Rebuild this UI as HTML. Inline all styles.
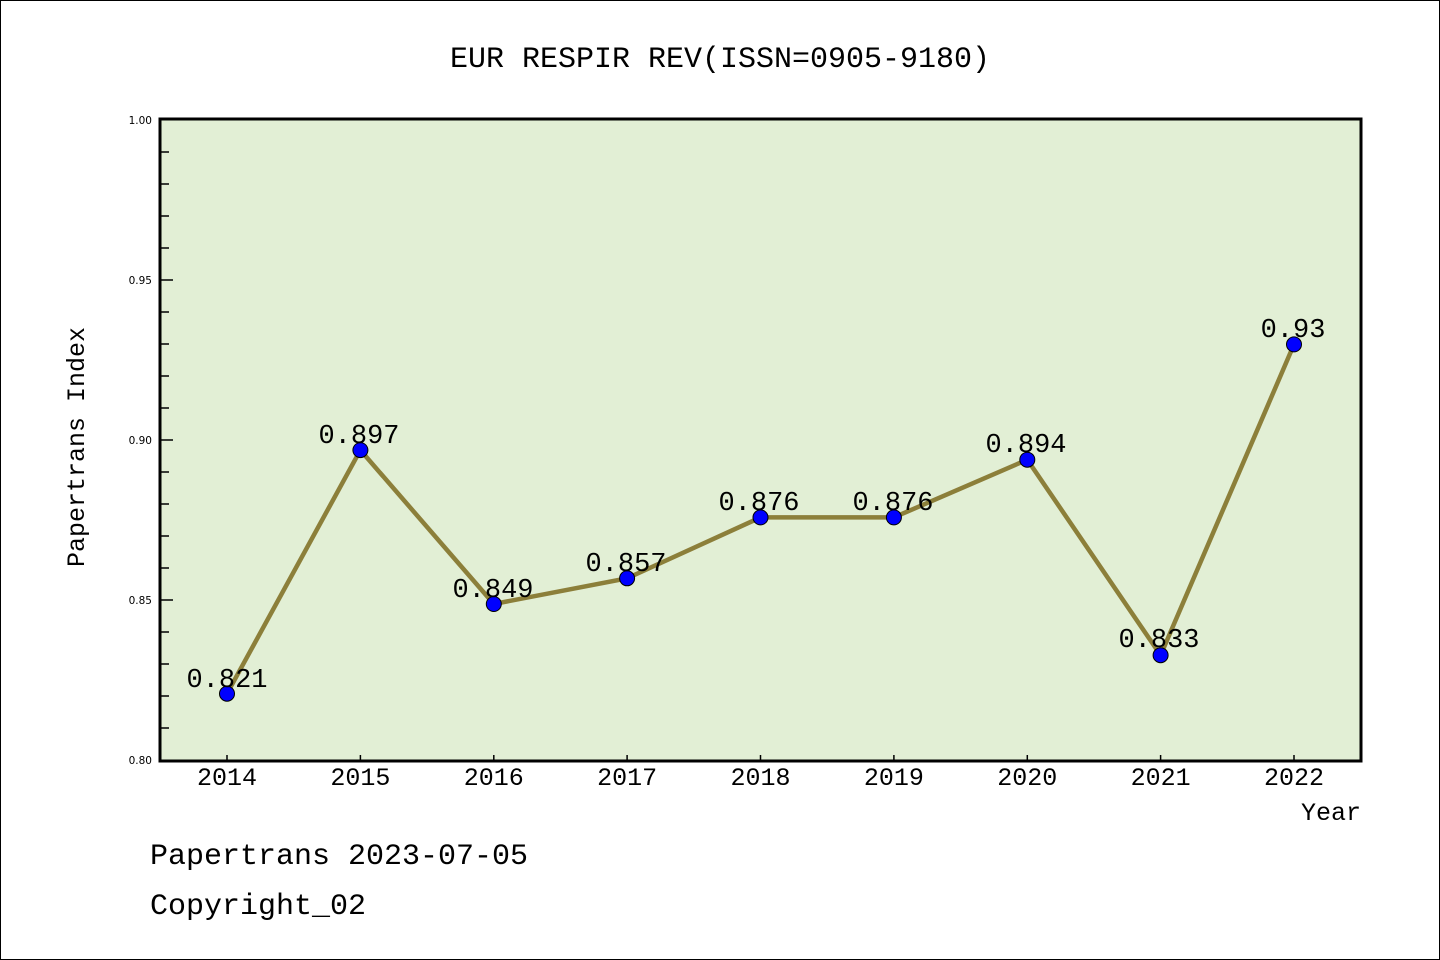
<!DOCTYPE html>
<html><head><meta charset="utf-8"><style>
body{margin:0;background:#fff;}
svg{display:block;}
</style></head><body>
<svg width="1440" height="960" xmlns="http://www.w3.org/2000/svg">
<rect x="0.5" y="0.5" width="1439" height="959" fill="#fff" stroke="#000"/>
<text x="720" y="67" font-family="Liberation Mono, monospace" font-size="30" text-anchor="middle">EUR RESPIR REV(ISSN=0905-9180)</text>
<rect x="160" y="119" width="1201" height="642" fill="#e2efd5"/>
<g stroke="#000" stroke-width="1.5">
<line x1="160" y1="152" x2="169" y2="152"/><line x1="160" y1="184" x2="169" y2="184"/><line x1="160" y1="216" x2="169" y2="216"/><line x1="160" y1="248" x2="169" y2="248"/>
<line x1="160" y1="280" x2="173" y2="280"/>
<line x1="160" y1="312" x2="169" y2="312"/><line x1="160" y1="344" x2="169" y2="344"/><line x1="160" y1="376" x2="169" y2="376"/><line x1="160" y1="408" x2="169" y2="408"/>
<line x1="160" y1="440" x2="173" y2="440"/>
<line x1="160" y1="472" x2="169" y2="472"/><line x1="160" y1="504" x2="169" y2="504"/><line x1="160" y1="536" x2="169" y2="536"/><line x1="160" y1="568" x2="169" y2="568"/>
<line x1="160" y1="600" x2="173" y2="600"/>
<line x1="160" y1="632" x2="169" y2="632"/><line x1="160" y1="664" x2="169" y2="664"/><line x1="160" y1="696" x2="169" y2="696"/><line x1="160" y1="728" x2="169" y2="728"/>
<line x1="227" y1="761" x2="227" y2="755"/><line x1="360.4" y1="761" x2="360.4" y2="755"/><line x1="493.8" y1="761" x2="493.8" y2="755"/><line x1="627.1" y1="761" x2="627.1" y2="755"/><line x1="760.5" y1="761" x2="760.5" y2="755"/><line x1="893.9" y1="761" x2="893.9" y2="755"/><line x1="1027.3" y1="761" x2="1027.3" y2="755"/><line x1="1160.6" y1="761" x2="1160.6" y2="755"/><line x1="1294" y1="761" x2="1294" y2="755"/>
</g>
<rect x="160" y="119" width="1201" height="642" fill="none" stroke="#000" stroke-width="3"/>
<g font-family="DejaVu Sans, sans-serif" font-size="10.5" text-anchor="end">
<text x="152" y="124">1.00</text><text x="152" y="284">0.95</text><text x="152" y="444">0.90</text><text x="152" y="604">0.85</text><text x="152" y="764">0.80</text>
</g>
<g font-family="Liberation Mono, monospace" font-size="25" text-anchor="middle">
<text x="227" y="785">2014</text><text x="360.4" y="785">2015</text><text x="493.8" y="785">2016</text><text x="627.1" y="785">2017</text><text x="760.5" y="785">2018</text><text x="893.9" y="785">2019</text><text x="1027.3" y="785">2020</text><text x="1160.6" y="785">2021</text><text x="1294" y="785">2022</text>
<text x="1331" y="820">Year</text>
<text transform="translate(84,447) rotate(-90)">Papertrans Index</text>
</g>
<polyline fill="none" stroke="#8c7f3a" stroke-width="4.5" points="227,693.7 360.4,450.1 493.8,604 627.1,578.3 760.5,517.4 893.9,517.4 1027.3,459.7 1160.6,655.2 1294,344.4"/>
<g fill="#0000ff" stroke="#000" stroke-width="1">
<circle cx="227" cy="693.7" r="7.5"/><circle cx="360.4" cy="450.1" r="7.5"/><circle cx="493.8" cy="604" r="7.5"/><circle cx="627.1" cy="578.3" r="7.5"/><circle cx="760.5" cy="517.4" r="7.5"/><circle cx="893.9" cy="517.4" r="7.5"/><circle cx="1027.3" cy="459.7" r="7.5"/><circle cx="1160.6" cy="655.2" r="7.5"/><circle cx="1294" cy="344.4" r="7.5"/>
</g>
<g font-family="Liberation Mono, monospace" font-size="27" text-anchor="middle">
<text x="227" y="687">0.821</text><text x="359" y="443">0.897</text><text x="493" y="597">0.849</text><text x="626" y="571">0.857</text><text x="759" y="510">0.876</text><text x="893" y="510">0.876</text><text x="1026" y="452">0.894</text><text x="1159" y="647">0.833</text><text x="1293" y="337">0.93</text>
</g>
<g font-family="Liberation Mono, monospace" font-size="30">
<text x="150" y="864">Papertrans 2023-07-05</text>
<text x="150" y="914">Copyright_02</text>
</g>
</svg>
</body></html>
